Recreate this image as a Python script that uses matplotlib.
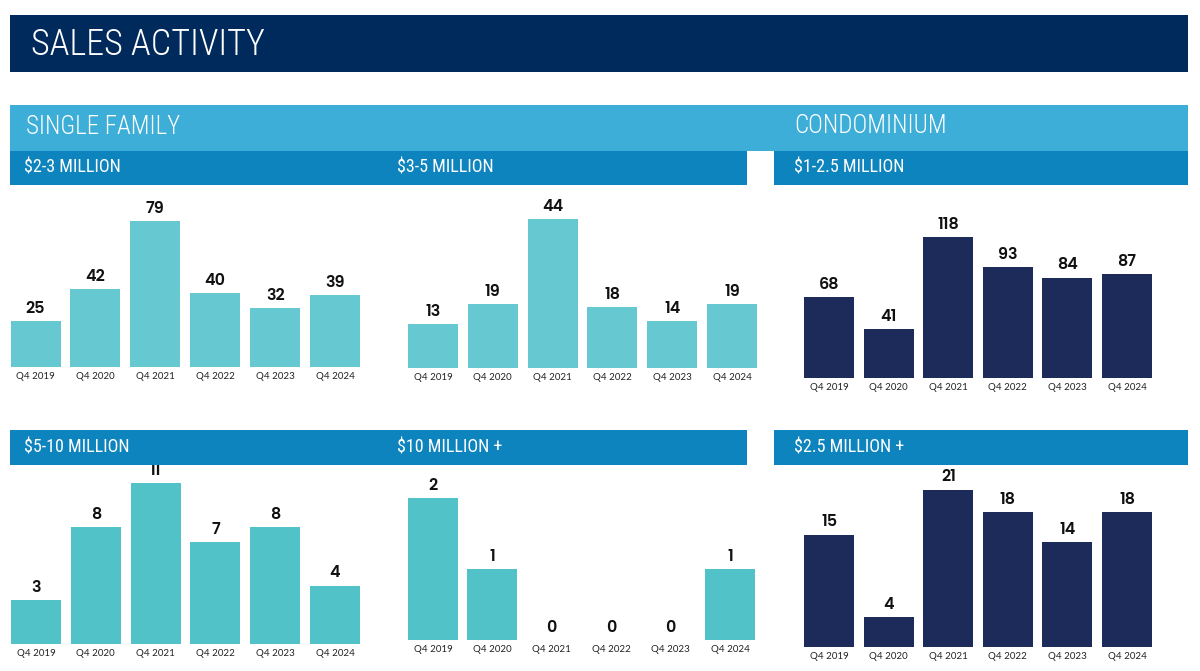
import matplotlib.pyplot as plt
from matplotlib import font_manager
from matplotlib.patches import Rectangle

W, H = 1200, 671

quarters = ["Q4 2019", "Q4 2020", "Q4 2021", "Q4 2022", "Q4 2023", "Q4 2024"]

sf_2_3m = [25, 42, 79, 40, 32, 39]
sf_3_5m = [13, 19, 44, 18, 14, 19]
sf_5_10m = [3, 8, 11, 7, 8, 4]
sf_10m_plus = [2, 1, 0, 0, 0, 1]
condo_1_25m = [68, 41, 118, 93, 84, 87]
condo_25m_plus = [15, 4, 21, 18, 14, 18]

NAVY = "#012a5c"
LIGHT_BAND = "#3caed7"
SUB_BAND = "#0d84bd"
TEAL_TOP = "#66c9d1"
TEAL_BOT = "#50c2c8"
CONDO = "#1c2b59"

fonts = font_manager.fontManager.ttflist


def pick(cands, weight):
    # first family that has a static face of the wanted weight
    for c in cands:
        if any(f.name == c and f.weight == weight and "[" not in f.fname for f in fonts):
            return [c, "DejaVu Sans"]
    return ["DejaVu Sans"]


HEAD_FONT = pick(["Roboto Condensed", "Barlow Semi Condensed", "Archivo Narrow",
                  "PT Sans Narrow", "Roboto"], 300)
SUB_FONT = pick(["Roboto Condensed", "Barlow Semi Condensed", "Archivo Narrow",
                 "PT Sans Narrow", "Roboto"], 400)
NUM_FONT = pick(["Poppins", "Lato"], 600)
if NUM_FONT == ["DejaVu Sans"]:
    NUM_FONT = pick(["Poppins", "Lato"], 700)
TICK_FONT = pick(["Lato", "DejaVu Sans"], 400)

fig = plt.figure(figsize=(W / 100, H / 100), dpi=100)
fig.patch.set_facecolor("white")


def fx(x):
    return x / W


def fy(y):
    return 1 - y / H


def band(x0, y0, x1, y1, color):
    fig.patches.append(Rectangle((fx(x0), fy(y1)), fx(x1 - x0), (y1 - y0) / H,
                                 transform=fig.transFigure, facecolor=color,
                                 edgecolor="none", zorder=0))


def label(x, y, s, size, family, weight="normal"):
    fig.text(fx(x), fy(y), s, color="white", fontsize=size, family=family,
             fontweight=weight, ha="left", va="center")


# header bands
band(10, 15, 1188, 72, NAVY)
label(31, 45, "SALES ACTIVITY", 26, HEAD_FONT, "light")
band(10, 105, 1188, 151, LIGHT_BAND)
label(26, 127, "SINGLE FAMILY", 18, HEAD_FONT, "light")
label(794, 126, "CONDOMINIUM", 18, HEAD_FONT, "light")
band(10, 151, 747, 185, SUB_BAND)
band(774, 151, 1188, 185, SUB_BAND)
label(24, 167, "$2-3 MILLION", 13, SUB_FONT)
label(397, 167, "$3-5 MILLION", 13, SUB_FONT)
label(794, 167, "$1-2.5 MILLION", 13, SUB_FONT)
band(10, 430, 747, 465, SUB_BAND)
band(774, 430, 1188, 465, SUB_BAND)
label(24, 448, "$5-10 MILLION", 13, SUB_FONT)
label(397, 448, "$10 MILLION +", 13, SUB_FONT)
label(794, 448, "$2.5 MILLION +", 13, SUB_FONT)


def panel(values, color, first_c, last_c, baseline, scale, top):
    step = (last_c - first_c) / (len(values) - 1)
    left = first_c - step / 2
    ax = fig.add_axes([fx(left), fy(baseline), fx(step * len(values)),
                       (baseline - top) / H])
    xs = range(len(values))
    ax.bar(xs, values, width=50 / step, color=color, edgecolor="none")
    ax.set_xlim(-0.5, len(values) - 0.5)
    ax.set_ylim(0, (baseline - top) / scale)
    for x, v in zip(xs, values):
        ax.annotate(str(v), (x, v), xytext=(0, 3), textcoords="offset points",
                    ha="center", va="bottom", fontsize=11.5, fontweight="semibold",
                    family=NUM_FONT, color="#111111")
    ax.set_xticks(list(xs))
    ax.set_xticklabels(quarters, fontsize=7, family=TICK_FONT, color="#222222")
    ax.tick_params(axis="x", length=0, pad=3.5)
    ax.set_yticks([])
    for s in ax.spines.values():
        s.set_visible(False)
    ax.patch.set_alpha(0)
    return ax


panel(sf_2_3m, TEAL_TOP, 35.5, 335, 367, 1.85, 195)
panel(sf_3_5m, TEAL_TOP, 433, 732, 368, 3.38, 195)
panel(condo_1_25m, CONDO, 829, 1127, 378, 1.195, 195)
panel(sf_5_10m, TEAL_BOT, 36, 335, 644, 14.6, 470)
panel(sf_10m_plus, TEAL_BOT, 433, 730, 640, 71, 470)
panel(condo_25m_plus, CONDO, 829, 1127, 647, 7.5, 470)

fig.savefig("out.png", dpi=100)
